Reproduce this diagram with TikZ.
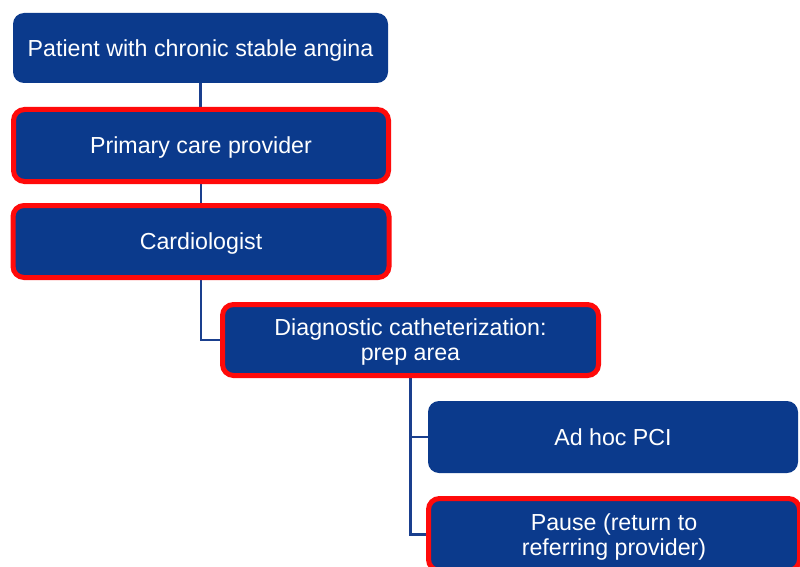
\documentclass[tikz,border=0pt]{standalone}
\usepackage{fontspec}
\setmainfont{Liberation Sans}
\usetikzlibrary{backgrounds}
\definecolor{boxblue}{HTML}{0B3A8C}
\definecolor{lineblue}{HTML}{1A3F8E}
\definecolor{boxred}{HTML}{FF0A0A}
\begin{document}
\begin{tikzpicture}[x=1pt,y=-1pt,
  stepbox/.style={fill=boxblue, rounded corners=11pt, text=white, align=center,
    font=\fontsize{23.2}{25}\selectfont, inner sep=0pt, text depth=0pt, anchor=center},
  redbox/.style={stepbox, draw=boxred, line width=5pt},
  conn/.style={draw=lineblue, line width=2.6pt}]
\useasboundingbox (0,0) rectangle (800,567);
\clip (0,0) rectangle (800,567);
\node[stepbox, minimum width=375pt, minimum height=70pt] (b1) at (200.5,48) {Patient with chronic stable angina};
\node[redbox, minimum width=375pt, minimum height=72pt] (b2) at (201,145.5) {Primary care provider};
\node[redbox, minimum width=376pt, minimum height=72pt] (b3) at (201,241.5) {Cardiologist};
\node[redbox, minimum width=376pt, minimum height=71pt] (b4) at (410.5,340) {Diagnostic catheterization:\\prep area};
\node[stepbox, minimum width=370pt, minimum height=72pt] (b5) at (613,437) {Ad hoc PCI};
\node[redbox, minimum width=371pt, minimum height=72pt] (b6) at (614,534.5) {Pause (return to\\referring provider)};
\begin{scope}[on background layer]
\fill[white] (0,0) rectangle (800,567);
\draw[conn] (b1.south) -- (b1.south |- b2.north);
\draw[conn] (b2.south) -- (b2.south |- b3.north);
\draw[conn] (b3.south) |- (b4.west);
\draw[conn] (b4.south) |- (b5.west);
\draw[conn] (b4.south) |- (b6.west);
\end{scope}
\end{tikzpicture}
\end{document}
